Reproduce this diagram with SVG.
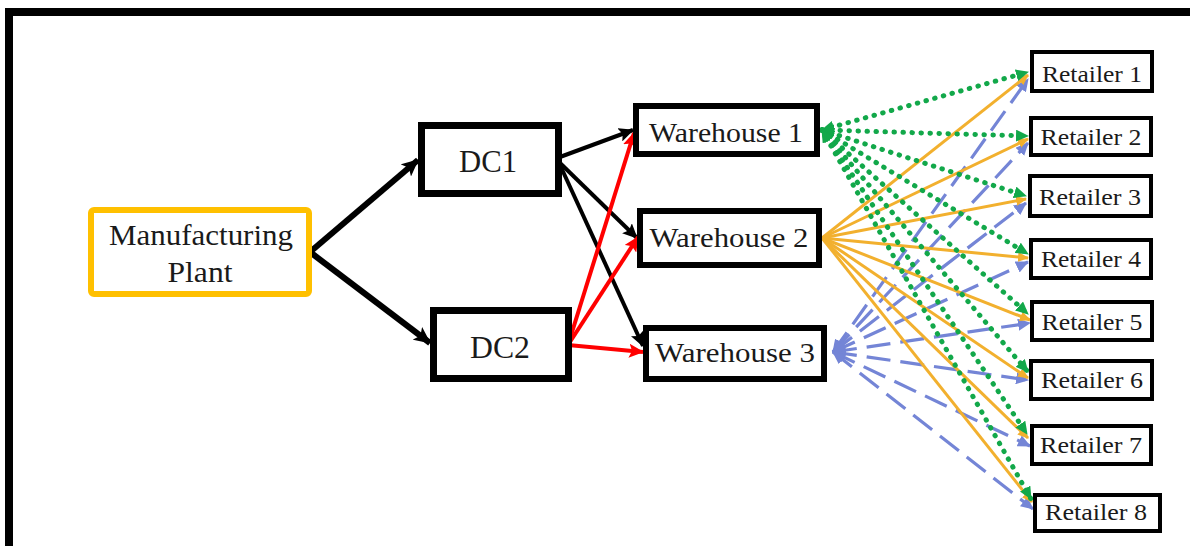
<svg xmlns="http://www.w3.org/2000/svg" width="1190" height="546" viewBox="0 0 1190 546">
<style>
.box{fill:#fff;stroke:#000;}
text{font-family:'Liberation Serif','Tinos','DejaVu Serif','Noto Serif','Times New Roman',serif;fill:#1a1a1a;text-anchor:middle;}
.blk{stroke:#000;fill:none;}
.red{stroke:#FF0000;stroke-width:4;fill:none;}
.grn{stroke:#12A84A;stroke-width:5;fill:none;stroke-dasharray:0.5 8.5;stroke-linecap:round;}
.org{stroke:#F2B02E;stroke-width:3;fill:none;}
.blu{stroke:#7485D6;stroke-width:3.2;fill:none;stroke-dasharray:24 10;}
</style>
<defs>
<marker id="ab" markerUnits="userSpaceOnUse" markerWidth="18" markerHeight="16" refX="16" refY="8" orient="auto"><path d="M0,0 L17,8 L0,16 L4,8 z" fill="#000"/></marker>
<marker id="ab2" markerUnits="userSpaceOnUse" markerWidth="16" markerHeight="14" refX="14" refY="7" orient="auto"><path d="M0,0 L15,7 L0,14 L3,7 z" fill="#000"/></marker>
<marker id="ar" markerUnits="userSpaceOnUse" markerWidth="16" markerHeight="14" refX="14" refY="7" orient="auto"><path d="M0,0 L15,7 L0,14 L3,7 z" fill="#FF0000"/></marker>
<marker id="ag" markerUnits="userSpaceOnUse" markerWidth="14" markerHeight="12" refX="12" refY="6" orient="auto-start-reverse"><path d="M0,0 L13,6 L0,12 z" fill="#12A84A"/></marker>
<marker id="ao" markerUnits="userSpaceOnUse" markerWidth="12" markerHeight="10" refX="10" refY="5" orient="auto"><path d="M0,0 L11,5 L0,10 z" fill="#F2B02E"/></marker>
<marker id="au" markerUnits="userSpaceOnUse" markerWidth="14" markerHeight="12" refX="12" refY="6" orient="auto-start-reverse"><path d="M0,0 L13,6 L0,12 z" fill="#7485D6"/></marker>
</defs>
<rect x="0" y="0" width="1190" height="546" fill="#fff"/>
<rect x="9" y="12" width="1200" height="538" fill="none" stroke="#000" stroke-width="8"/>

<g id="connectors">
<line class="blk" stroke-width="6" x1="310" y1="252" x2="418" y2="160" marker-end="url(#ab)"/>
<line class="blk" stroke-width="6" x1="310" y1="252" x2="430" y2="343" marker-end="url(#ab)"/>
<line class="blk" stroke-width="4" x1="560" y1="157" x2="633" y2="130" marker-end="url(#ab2)"/>
<line class="blk" stroke-width="4" x1="560" y1="163" x2="637" y2="238" marker-end="url(#ab2)"/>
<line class="blk" stroke-width="4" x1="560" y1="165" x2="643" y2="346" marker-end="url(#ab2)"/>
<line class="red" x1="568" y1="345" x2="634" y2="133" marker-end="url(#ar)"/>
<line class="red" x1="568" y1="345" x2="638" y2="237" marker-end="url(#ar)"/>
<line class="red" x1="568" y1="345" x2="643" y2="352" marker-end="url(#ar)"/>

<g id="w3-links">
<line class="blu" x1="833" y1="352" x2="1028" y2="79" marker-start="url(#au)" marker-end="url(#au)"/>
<line class="blu" x1="833" y1="352" x2="1028" y2="143" marker-start="url(#au)" marker-end="url(#au)"/>
<line class="blu" x1="833" y1="352" x2="1026" y2="203" marker-start="url(#au)" marker-end="url(#au)"/>
<line class="blu" x1="833" y1="352" x2="1028" y2="262" marker-start="url(#au)" marker-end="url(#au)"/>
<line class="blu" x1="833" y1="352" x2="1030" y2="323" marker-start="url(#au)" marker-end="url(#au)"/>
<line class="blu" x1="833" y1="352" x2="1028" y2="380" marker-start="url(#au)" marker-end="url(#au)"/>
<line class="blu" x1="833" y1="352" x2="1030" y2="446" marker-start="url(#au)" marker-end="url(#au)"/>
<line class="blu" x1="833" y1="352" x2="1033" y2="509" marker-start="url(#au)" marker-end="url(#au)"/>
</g>
<g id="w2-links">
<line class="org" x1="822" y1="238" x2="1028" y2="75" marker-end="url(#ao)"/>
<line class="org" x1="822" y1="238" x2="1028" y2="139" marker-end="url(#ao)"/>
<line class="org" x1="822" y1="238" x2="1026" y2="199" marker-end="url(#ao)"/>
<line class="org" x1="822" y1="238" x2="1028" y2="258" marker-end="url(#ao)"/>
<line class="org" x1="822" y1="238" x2="1030" y2="320" marker-end="url(#ao)"/>
<line class="org" x1="822" y1="238" x2="1028" y2="378" marker-end="url(#ao)"/>
<line class="org" x1="822" y1="238" x2="1028" y2="438" marker-end="url(#ao)"/>
<line class="org" x1="822" y1="238" x2="1032" y2="502" marker-end="url(#ao)"/>
</g>
<g id="w1-links">
<line class="grn" x1="822" y1="130" x2="1028" y2="72" marker-start="url(#ag)" marker-end="url(#ag)"/>
<line class="grn" x1="822" y1="130" x2="1028" y2="136" marker-start="url(#ag)" marker-end="url(#ag)"/>
<line class="grn" x1="822" y1="130" x2="1026" y2="196" marker-start="url(#ag)" marker-end="url(#ag)"/>
<line class="grn" x1="822" y1="130" x2="1028" y2="254" marker-start="url(#ag)" marker-end="url(#ag)"/>
<line class="grn" x1="822" y1="130" x2="1028" y2="314" marker-start="url(#ag)" marker-end="url(#ag)"/>
<line class="grn" x1="822" y1="130" x2="1028" y2="372" marker-start="url(#ag)" marker-end="url(#ag)"/>
<line class="grn" x1="822" y1="130" x2="1027" y2="434" marker-start="url(#ag)" marker-end="url(#ag)"/>
<line class="grn" x1="822" y1="130" x2="1031" y2="499" marker-start="url(#ag)" marker-end="url(#ag)"/>
</g>
</g>

<g id="plant"><rect x="91" y="210" width="218" height="84" rx="3" fill="#fff" stroke="#FFC000" stroke-width="6"/>
<text x="201" y="245" font-size="30" textLength="184" lengthAdjust="spacingAndGlyphs">Manufacturing</text><text x="200" y="282" font-size="30" textLength="65" lengthAdjust="spacingAndGlyphs">Plant</text></g>
<g id="dc1"><rect class="box" x="421.5" y="125.5" width="137" height="68" stroke-width="7"/><text x="488" y="172" font-size="32" textLength="58" lengthAdjust="spacingAndGlyphs">DC1</text></g>
<g id="dc2"><rect class="box" x="433.5" y="310.5" width="135" height="68" stroke-width="7"/><text x="500" y="358" font-size="32" textLength="60" lengthAdjust="spacingAndGlyphs">DC2</text></g>
<g id="wh1"><rect class="box" x="636" y="106" width="181" height="48" stroke-width="6"/><text x="726" y="142" font-size="28" textLength="154" lengthAdjust="spacingAndGlyphs">Warehouse 1</text></g>
<g id="wh2"><rect class="box" x="640" y="211" width="179" height="54" stroke-width="6"/><text x="729" y="247" font-size="28" textLength="159" lengthAdjust="spacingAndGlyphs">Warehouse 2</text></g>
<g id="wh3"><rect class="box" x="646" y="328" width="178" height="51" stroke-width="6"/><text x="735" y="362" font-size="28" textLength="160" lengthAdjust="spacingAndGlyphs">Warehouse 3</text></g>
<g id="r1"><rect class="box" x="1032" y="52" width="120" height="39" stroke-width="4"/><text x="1092" y="82" font-size="23.5" textLength="100" lengthAdjust="spacingAndGlyphs">Retailer 1</text></g>
<g id="r2"><rect class="box" x="1031" y="118" width="120" height="37" stroke-width="4"/><text x="1091" y="145" font-size="23.5" textLength="101" lengthAdjust="spacingAndGlyphs">Retailer 2</text></g>
<g id="r3"><rect class="box" x="1030" y="176" width="121" height="40" stroke-width="4"/><text x="1090" y="205" font-size="23.5" textLength="102" lengthAdjust="spacingAndGlyphs">Retailer 3</text></g>
<g id="r4"><rect class="box" x="1031" y="240" width="120" height="38" stroke-width="4"/><text x="1091" y="267" font-size="23.5" textLength="100" lengthAdjust="spacingAndGlyphs">Retailer 4</text></g>
<g id="r5"><rect class="box" x="1032" y="302" width="120" height="38" stroke-width="4"/><text x="1092" y="330" font-size="23.5" textLength="101" lengthAdjust="spacingAndGlyphs">Retailer 5</text></g>
<g id="r6"><rect class="box" x="1031" y="361" width="121" height="38" stroke-width="4"/><text x="1092" y="388" font-size="23.5" textLength="102" lengthAdjust="spacingAndGlyphs">Retailer 6</text></g>
<g id="r7"><rect class="box" x="1032" y="426" width="119" height="38" stroke-width="4"/><text x="1091" y="453" font-size="23.5" textLength="102" lengthAdjust="spacingAndGlyphs">Retailer 7</text></g>
<g id="r8"><rect class="box" x="1035" y="495" width="125" height="36" stroke-width="4"/><text x="1096" y="520" font-size="23.5" textLength="102" lengthAdjust="spacingAndGlyphs">Retailer 8</text></g>
</svg>
